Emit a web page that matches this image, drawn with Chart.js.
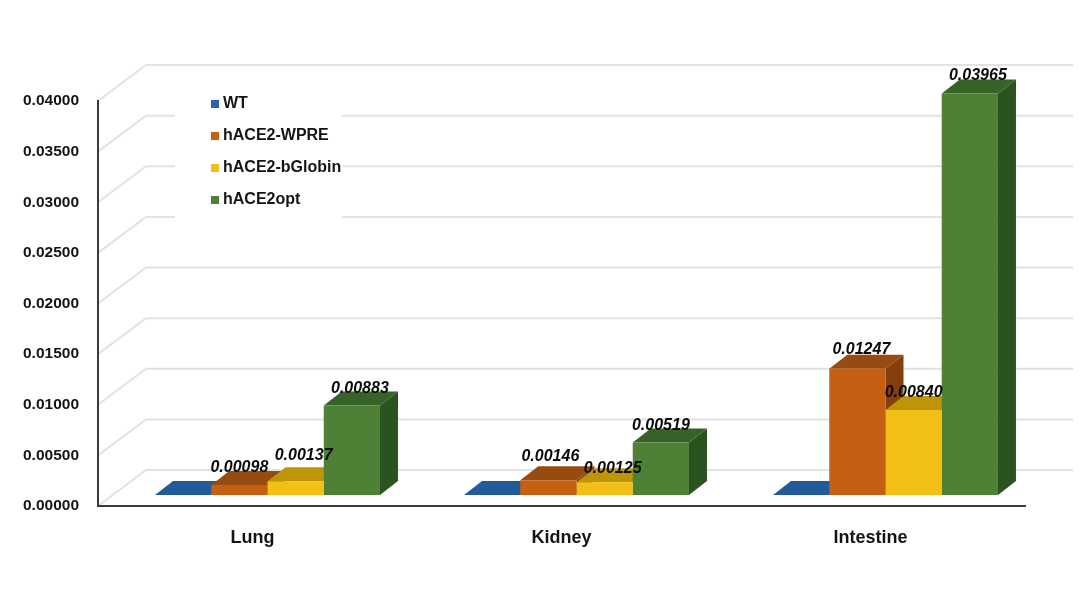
<!DOCTYPE html>
<html>
<head>
<meta charset="utf-8">
<title>hACE2 expression</title>
<style>
  html, body { margin: 0; padding: 0; background: #fff; }
  canvas { display: block; }
</style>
<script src="https://cdn.jsdelivr.net/npm/chart.js@4"></script>
</head>
<body>
<canvas id="chart" width="1087" height="596"></canvas>
<script>
const categories = ['Lung', 'Kidney', 'Intestine'];
const seriesNames = ['WT', 'hACE2-WPRE', 'hACE2-bGlobin', 'hACE2opt'];
const wtValues = [0, 0, 0];
const wpreValues = [0.00098, 0.00146, 0.01247];
const bGlobinValues = [0.00137, 0.00125, 0.00840];
const optValues = [0.00883, 0.00519, 0.03965];
const yTicks = [0, 0.005, 0.01, 0.015, 0.02, 0.025, 0.03, 0.035, 0.04];

const frontColors = ['#2e62b0', '#c55f11', '#f2bf17', '#4e8035'];
const topColors = ['#235a9c', '#974b10', '#bd9506', '#386328'];
const sideColors = ['#1d4a80', '#843f0c', '#a07f05', '#29541f'];

// depth of the fake 3D box, and where the bars sit inside it
const wallDepth = { x: 48, y: -36 };
const barShift = { x: 15, y: -11 };
const barDepth = { x: 18, y: -14 };
// value labels were placed by hand in the original: [dx, dy] per series, per category
const labelNudge = [
    [[0, 0], [0, 0], [0, 0]],
    [[0, -17], [2, -24], [4, -19]],
    [[8, -26], [8, -14], [0, -17]],
    [[8, -17], [0, -17], [8, -18]]
];
const seriesValues = [wtValues, wpreValues, bGlobinValues, optValues];

function swatch(color) {
    const c = document.createElement('canvas');
    c.width = 8;
    c.height = 8;
    const g = c.getContext('2d');
    g.fillStyle = color;
    g.fillRect(0, 0, 8, 8);
    return c;
}

function poly(ctx, color, pts) {
    ctx.fillStyle = color;
    ctx.beginPath();
    pts.forEach((p, i) => i ? ctx.lineTo(p[0], p[1]) : ctx.moveTo(p[0], p[1]));
    ctx.closePath();
    ctx.fill();
}

const backWall = {
    id: 'backWall',
    beforeDraw(chart) {
        const { ctx, scales: { x, y } } = chart;
        ctx.save();
        ctx.strokeStyle = '#e2e2e2';
        ctx.lineWidth = 2;
        y.ticks.forEach(t => {
            const py = y.getPixelForValue(t.value);
            ctx.beginPath();
            ctx.moveTo(x.left, py);
            ctx.lineTo(x.left + wallDepth.x, py + wallDepth.y);
            ctx.lineTo(x.right + wallDepth.x, py + wallDepth.y);
            ctx.stroke();
        });
        // legend sits on a white box that hides the wall lines
        ctx.fillStyle = '#fff';
        ctx.fillRect(175, 85, 167, 155);
        ctx.restore();
        chart.legend.left = 198;
        chart.legend.top = 80;
    }
};

const bars3d = {
    id: 'bars3d',
    beforeDatasetsDraw(chart) {
        const { ctx } = chart;
        categories.forEach((c, j) => {
            chart.data.datasets.forEach((ds, i) => {
                const el = chart.getDatasetMeta(i).data[j];
                const l = el.x - el.width / 2 + barShift.x;
                const r = el.x + el.width / 2 + barShift.x;
                const t = el.y + barShift.y;
                const b = el.base + barShift.y;
                const dx = barDepth.x, dy = barDepth.y;
                poly(ctx, sideColors[i], [[r, t], [r + dx, t + dy], [r + dx, b + dy], [r, b]]);
                poly(ctx, topColors[i], [[l, t], [l + dx, t + dy], [r + dx, t + dy], [r, t]]);
            });
        });
        // the library paints the front faces, moved back onto the floor
        ctx.save();
        ctx.translate(barShift.x, barShift.y);
    },
    afterDatasetsDraw(chart) {
        const { ctx } = chart;
        ctx.restore();
        ctx.save();
        ctx.font = 'italic bold 16px "Liberation Sans", Arial, sans-serif';
        ctx.fillStyle = '#0a0a0a';
        ctx.textAlign = 'center';
        ctx.textBaseline = 'middle';
        chart.data.datasets.forEach((ds, i) => {
            if (i === 0) return;
            chart.getDatasetMeta(i).data.forEach((el, j) => {
                const n = labelNudge[i][j];
                ctx.fillText(ds.data[j].toFixed(5), el.x + barShift.x + n[0], el.y + barShift.y + n[1]);
            });
        });
        ctx.restore();
    }
};

new Chart(document.getElementById('chart').getContext('2d'), {
    type: 'bar',
    data: {
        labels: categories,
        datasets: seriesNames.map((name, i) => ({
            label: name,
            data: seriesValues[i],
            backgroundColor: frontColors[i],
            borderWidth: 0
        }))
    },
    plugins: [backWall, bars3d],
    options: {
        responsive: false,
        animation: false,
        layout: { padding: { top: 101, right: 62, left: 0, bottom: 0 } },
        datasets: { bar: { categoryPercentage: 0.728, barPercentage: 1 } },
        scales: {
            x: {
                afterFit(s) { s.height = 90; },
                grid: { display: false },
                border: { display: true, color: '#3a3a3a', width: 2 },
                ticks: {
                    color: '#141414',
                    padding: 13,
                    font: { family: '"Liberation Sans", Arial, sans-serif', size: 18, weight: 'bold' }
                }
            },
            y: {
                min: 0,
                max: 0.04,
                afterFit(s) { s.width = 98; },
                afterBuildTicks(s) { s.ticks = yTicks.map(v => ({ value: v })); },
                grid: { display: false, drawTicks: false },
                border: { display: true, color: '#3a3a3a', width: 2 },
                ticks: {
                    color: '#141414',
                    padding: 19,
                    callback: v => v.toFixed(5),
                    font: { family: '"Liberation Sans", Arial, sans-serif', size: 15.5, weight: 'bold' }
                }
            }
        },
        plugins: {
            title: { display: false },
            tooltip: { enabled: false },
            legend: {
                position: 'chartArea',
                align: 'start',
                labels: {
                    usePointStyle: true,
                    pointStyleWidth: 1,
                    padding: 16,
                    color: '#141414',
                    font: { family: '"Liberation Sans", Arial, sans-serif', size: 16, weight: 'bold' },
                    generateLabels: chart => chart.data.datasets.map((ds, i) => ({
                        text: ds.label,
                        fontColor: '#141414',
                        pointStyle: swatch(frontColors[i]),
                        lineWidth: 0,
                        datasetIndex: i
                    }))
                }
            }
        }
    }
});
</script>
</body>
</html>
